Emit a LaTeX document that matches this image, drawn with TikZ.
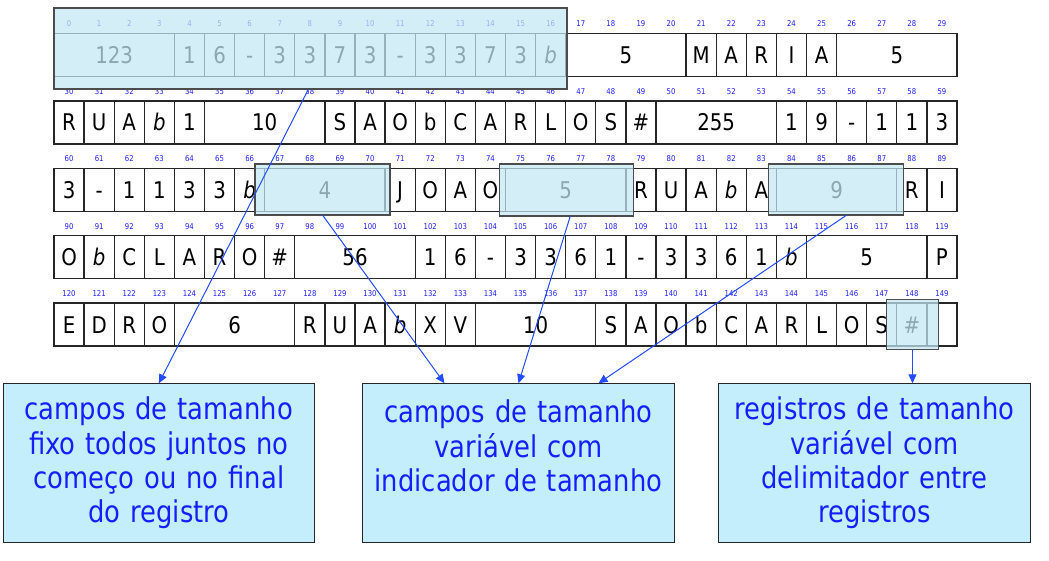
\documentclass[tikz,border=0pt]{standalone}
\usepackage{fontspec}
\setmainfont[FakeStretch=0.86]{DejaVu Sans}
\usetikzlibrary{arrows.meta}
\definecolor{ovfill}{RGB}{195,232,245}
\definecolor{boxfill}{RGB}{196,238,252}
\definecolor{boxtext}{RGB}{20,30,255}
\definecolor{idxblue}{RGB}{30,30,255}
\definecolor{arrblue}{RGB}{35,75,255}

\begin{document}
\begin{tikzpicture}[x=1pt,y=-1pt,
    cell/.style={draw=black!85, line width=1.3pt, inner sep=0pt, outer sep=0pt,
      minimum height=43pt, text height=16.8pt, text depth=0pt, anchor=north west,
      font=\fontsize{23}{23}\selectfont},
    idx/.style={text=idxblue, font=\fontsize{8}{8}\selectfont, inner sep=0pt},
    over/.style={draw=black!70, line width=1.2pt, fill=ovfill, fill opacity=0.72,
      inner sep=0pt, outer sep=0pt, anchor=north west},
    note/.style={draw=black!85, line width=0.9pt, fill=boxfill, text=boxtext,
      text width=300pt, align=center, minimum width=311.5pt, minimum height=158.4pt,
      anchor=north west, inner sep=0pt, font=\fontsize{30}{34.3}\selectfont},
    link/.style={arrblue, line width=1pt, -{Triangle[length=9pt,width=8pt]}}]

  \useasboundingbox (0,0) rectangle (1049,561);

  \foreach \r/\cells in {
      0/{0/4/123, 4/1/1, 5/1/6, 6/1/-, 7/1/3, 8/1/3, 9/1/7, 10/1/3, 11/1/-, 12/1/3,
         13/1/3, 14/1/7, 15/1/3, 16/1/\textit{b}, 17/4/5, 21/1/M, 22/1/A, 23/1/R,
         24/1/I, 25/1/A, 26/4/5},
      1/{0/1/R, 1/1/U, 2/1/A, 3/1/\textit{b}, 4/1/1, 5/4/10, 9/1/S, 10/1/A, 11/1/O,
         12/1/b, 13/1/C, 14/1/A, 15/1/R, 16/1/L, 17/1/O, 18/1/S, 19/1/\#, 20/4/255,
         24/1/1, 25/1/9, 26/1/-, 27/1/1, 28/1/1, 29/1/3},
      2/{0/1/3, 1/1/-, 2/1/1, 3/1/1, 4/1/3, 5/1/3, 6/1/\textit{b}, 7/4/4, 11/1/J,
         12/1/O, 13/1/A, 14/1/O, 15/4/5, 19/1/R, 20/1/U, 21/1/A, 22/1/\textit{b},
         23/1/A, 24/4/9, 28/1/R, 29/1/I},
      3/{0/1/O, 1/1/\textit{b}, 2/1/C, 3/1/L, 4/1/A, 5/1/R, 6/1/O, 7/1/\#, 8/4/56,
         12/1/1, 13/1/6, 14/1/-, 15/1/3, 16/1/3, 17/1/6, 18/1/1, 19/1/-, 20/1/3,
         21/1/3, 22/1/6, 23/1/1, 24/1/\textit{b}, 25/4/5, 29/1/P},
      4/{0/1/E, 1/1/D, 2/1/R, 3/1/O, 4/4/6, 8/1/R, 9/1/U, 10/1/A, 11/1/\textit{b},
         12/1/X, 13/1/V, 14/4/10, 18/1/S, 19/1/A, 20/1/O, 21/1/b, 22/1/C, 23/1/A,
         24/1/R, 25/1/L, 26/1/O, 27/1/S, 28/1/\#, 29/1/{}}}{
    \foreach \c/\w/\t in \cells{
      \node[cell, minimum width=\w*30.1pt] (c-\r-\c) at (54+\c*30.1, 33.5+\r*67.4) {\t};
    }
    \foreach \c in {0,...,29}{
      \pgfmathtruncatemacro\n{\r*30+\c}
      \node[idx] (i-\r-\c) at (69.05+\c*30.1, 24+\r*67.4) {\n};
    }
  }

  \node[over, minimum width=513pt, minimum height=81pt] (ovA) at (54,8) {};
  \node[over, minimum width=135pt, minimum height=51pt] (ovB) at (255,164) {};
  \node[over, minimum width=134pt, minimum height=52pt] (ovC) at (499.3,164) {};
  \node[over, minimum width=135pt, minimum height=51pt] (ovD) at (768.3,164) {};
  \node[over, minimum width=51.6pt, minimum height=50pt] (ovE) at (886.7,299.3) {};

  \node[note] (boxA) at (2.7,383.3) {campos de tamanho\\fixo todos juntos no\\começo ou no final\\do registro};
  \node[note] (boxB) at (362.3,383.3) {campos de tamanho\\variável com\\indicador de tamanho\\\mbox{}};
  \node[note] (boxC) at (718.3,383.3) {registros de tamanho\\variável com\\delimitador entre\\registros};

  \draw[link] ([xshift=-2pt]ovA.south) -- (boxA.north);
  \draw[link] (ovB.south) -- ([xshift=-74pt]boxB.north);
  \draw[link] ([xshift=4pt]ovC.south) -- (boxB.north);
  \draw[link] ([xshift=11pt]ovD.south) -- ([xshift=80pt]boxB.north);
  \draw[link] (ovE.south) -- (ovE.south |- boxC.north);
\end{tikzpicture}
\end{document}
